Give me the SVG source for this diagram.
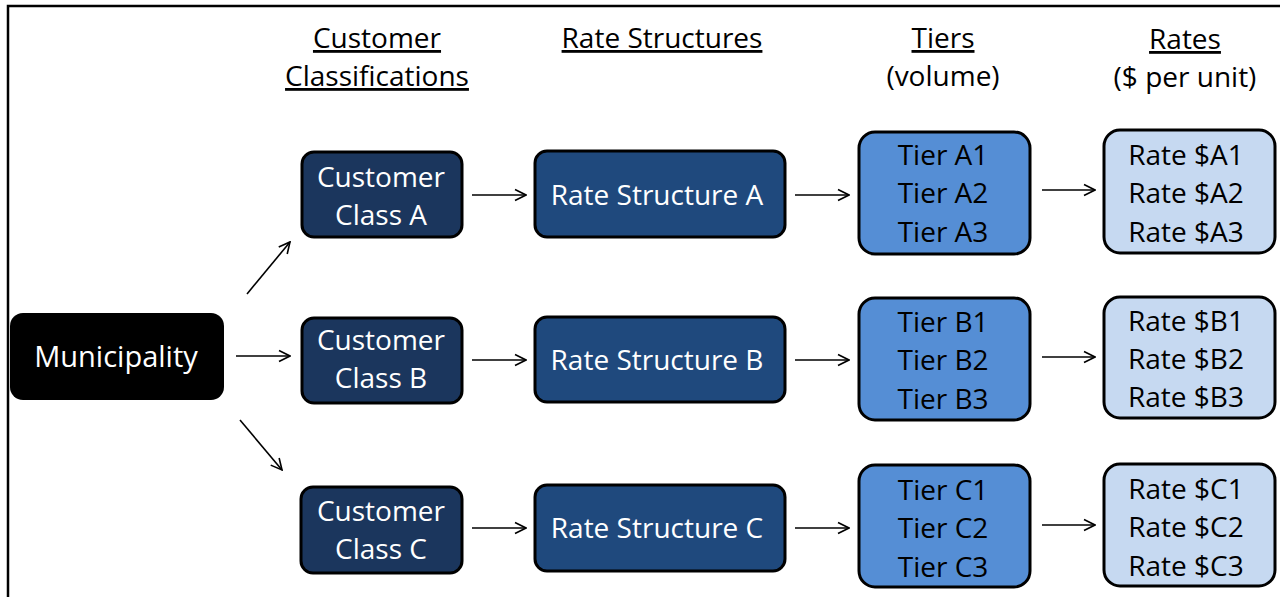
<svg xmlns="http://www.w3.org/2000/svg" width="1280" height="597" viewBox="0 0 1280 597">
<style>
text{font-family:"Open Sans","Noto Sans","Liberation Sans",sans-serif;text-anchor:middle}
.h{font-size:28px;fill:#000}
.u{text-decoration:underline}
.n{font-size:28px;fill:#fff}
.d{font-size:28px;fill:#000}
.box{stroke:#000;stroke-width:3}
.cc{fill:#1b365d}
.rs{fill:#1f497d}
.ti{fill:#558ed5}
.ra{fill:#c6d9f1}
.c line{stroke:#000;stroke-width:1.6;fill:none}
</style>
<defs>
<marker id="ah" viewBox="0 0 14 14" refX="13" refY="7" markerWidth="14" markerHeight="14" markerUnits="userSpaceOnUse" orient="auto">
<path d="M2,1.5 L13,7 L2,12.5" fill="none" stroke="#000" stroke-width="1.6"/>
</marker>
</defs>
<rect x="0" y="0" width="1280" height="597" fill="#fff"/>
<path d="M8,597 V6 H1280" fill="none" stroke="#000" stroke-width="2.5"/>
<g id="headers">
<text class="h u" x="377" y="48">Customer</text>
<text class="h u" x="377" y="86">Classifications</text>
<text class="h u" x="662" y="48">Rate Structures</text>
<text class="h u" x="943" y="48">Tiers</text>
<text class="h" x="943" y="86">(volume)</text>
<text class="h u" x="1185" y="49">Rates</text>
<text class="h" x="1185" y="87">($ per unit)</text>
</g>
<g class="c" id="connectors">
<line x1="247" y1="294" x2="290" y2="242" marker-end="url(#ah)"/>
<line x1="236" y1="356" x2="290" y2="356" marker-end="url(#ah)"/>
<line x1="240" y1="420" x2="282" y2="470" marker-end="url(#ah)"/>
<line x1="472" y1="195" x2="526" y2="195" marker-end="url(#ah)"/>
<line x1="472" y1="360" x2="526" y2="360" marker-end="url(#ah)"/>
<line x1="472" y1="528" x2="526" y2="528" marker-end="url(#ah)"/>
<line x1="795" y1="195" x2="849" y2="195" marker-end="url(#ah)"/>
<line x1="795" y1="360" x2="849" y2="360" marker-end="url(#ah)"/>
<line x1="795" y1="528" x2="849" y2="528" marker-end="url(#ah)"/>
<line x1="1042" y1="190" x2="1095" y2="190" marker-end="url(#ah)"/>
<line x1="1042" y1="357" x2="1095" y2="357" marker-end="url(#ah)"/>
<line x1="1042" y1="525" x2="1095" y2="525" marker-end="url(#ah)"/>
</g>
<g id="municipality">
<rect x="10" y="313" width="214" height="87" rx="13" fill="#000"/>
<text class="n" x="116" y="367" style="font-size:29px">Municipality</text>
</g>
<g id="classA">
<rect class="box cc" x="302" y="152" width="160" height="85" rx="12"/>
<text class="n" x="381" y="187">Customer</text>
<text class="n" x="381" y="225">Class A</text>
</g>
<g id="classB">
<rect class="box cc" x="302" y="318" width="160" height="85" rx="12"/>
<text class="n" x="381" y="350">Customer</text>
<text class="n" x="381" y="388">Class B</text>
</g>
<g id="classC">
<rect class="box cc" x="301" y="487" width="161" height="86" rx="12"/>
<text class="n" x="381" y="521">Customer</text>
<text class="n" x="381" y="559">Class C</text>
</g>
<g id="rsA">
<rect class="box rs" x="535" y="151" width="250" height="86" rx="12"/>
<text class="n" x="657" y="205">Rate Structure A</text>
</g>
<g id="rsB">
<rect class="box rs" x="535" y="317" width="250" height="85" rx="12"/>
<text class="n" x="657" y="370">Rate Structure B</text>
</g>
<g id="rsC">
<rect class="box rs" x="535" y="485" width="250" height="86" rx="12"/>
<text class="n" x="657" y="538">Rate Structure C</text>
</g>
<g id="tierA">
<rect class="box ti" x="859" y="132" width="171" height="122" rx="16"/>
<text class="d" x="943" y="165">Tier A1</text>
<text class="d" x="943" y="203">Tier A2</text>
<text class="d" x="943" y="242">Tier A3</text>
</g>
<g id="tierB">
<rect class="box ti" x="859" y="298" width="171" height="122" rx="16"/>
<text class="d" x="943" y="332">Tier B1</text>
<text class="d" x="943" y="370">Tier B2</text>
<text class="d" x="943" y="409">Tier B3</text>
</g>
<g id="tierC">
<rect class="box ti" x="859" y="465" width="171" height="122" rx="16"/>
<text class="d" x="943" y="500">Tier C1</text>
<text class="d" x="943" y="538">Tier C2</text>
<text class="d" x="943" y="577">Tier C3</text>
</g>
<g id="rateA">
<rect class="box ra" x="1104" y="130" width="171" height="123" rx="16"/>
<text class="d" x="1186" y="165">Rate $A1</text>
<text class="d" x="1186" y="203">Rate $A2</text>
<text class="d" x="1186" y="242">Rate $A3</text>
</g>
<g id="rateB">
<rect class="box ra" x="1104" y="297" width="171" height="121" rx="16"/>
<text class="d" x="1186" y="331">Rate $B1</text>
<text class="d" x="1186" y="369">Rate $B2</text>
<text class="d" x="1186" y="407">Rate $B3</text>
</g>
<g id="rateC">
<rect class="box ra" x="1104" y="464" width="171" height="122" rx="16"/>
<text class="d" x="1186" y="499">Rate $C1</text>
<text class="d" x="1186" y="537">Rate $C2</text>
<text class="d" x="1186" y="576">Rate $C3</text>
</g>
</svg>
